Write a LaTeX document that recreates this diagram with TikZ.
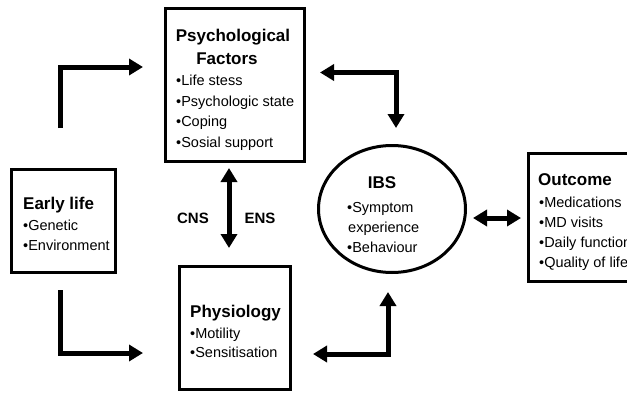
\documentclass[tikz,border=0pt]{standalone}
\usepackage{fontspec}
\setmainfont{Liberation Sans}
\usetikzlibrary{arrows.meta,shapes.geometric}
\tikzset{
  box/.style={draw, line width=3pt, inner sep=0pt},
  ttl/.style={anchor=base west, inner sep=0pt, font=\fontsize{17}{20}\selectfont\bfseries},
  ttlc/.style={anchor=base, inner sep=0pt, font=\fontsize{17}{20}\selectfont\bfseries},
  lbl/.style={anchor=base west, inner sep=0pt, font=\fontsize{14.5}{17}\selectfont},
  nlbl/.style={anchor=base, inner sep=0pt, font=\fontsize{15}{17}\selectfont\bfseries},
  arr/.style={line width=5pt, line join=miter, -{Triangle[length=14pt,width=16pt]}},
  darr/.style={line width=5pt, line join=miter, {Triangle[length=14pt,width=16pt]}-{Triangle[length=14pt,width=16pt]}},
}
\begin{document}
\begin{tikzpicture}[x=1pt,y=-1pt]
\useasboundingbox (0,0) rectangle (627,394);
\clip (0,0) rectangle (627,394);
% boxes
\node[box, minimum width=139pt, minimum height=153pt] (psy) at (235,85) {};
\node[box, minimum width=104pt, minimum height=103pt] (early) at (63.5,221) {};
\node[box, minimum width=111pt, minimum height=123pt] (phys) at (235,328) {};
\node[box, ellipse, minimum width=147pt, minimum height=127pt] (ibs) at (392,209) {};
\node[box, minimum width=110pt, minimum height=128pt] (out) at (583.5,217.5) {};
% texts: psychological
\node[ttlc] (psyt1) at (233,41) {Psychological};
\node[ttlc] (psyt2) at (227,64) {Factors};
\node[lbl] (psy1) at (176,85) {•Life stess};
\node[lbl] (psy2) at (176,106) {•Psychologic state};
\node[lbl] (psy3) at (176,126) {•Coping};
\node[lbl] (psy4) at (176,147) {•Sosial support};
% early life
\node[ttl] (earlyt) at (23,209) {Early life};
\node[lbl] (early1) at (23,230) {•Genetic};
\node[lbl] (early2) at (23,250) {•Environment};
% physiology
\node[ttl] (physt) at (190,317) {Physiology};
\node[lbl] (phys1) at (190,338) {•Motility};
\node[lbl] (phys2) at (190,357) {•Sensitisation};
% IBS
\node[ttlc] (ibst) at (382,188) {IBS};
\node[lbl] (ibs1) at (347,212) {•Symptom};
\node[lbl] (ibs2) at (348,232) {experience};
\node[lbl] (ibs3) at (347,252) {•Behaviour};
% outcome
\node[ttl] (outt) at (538,185) {Outcome};
\node[lbl] (out1) at (539,207) {•Medications};
\node[lbl] (out2) at (539,227) {•MD visits};
\node[lbl] (out3) at (539,247) {•Daily functioning};
\node[lbl] (out4) at (539,267) {•Quality of life};
% CNS / ENS
\node[nlbl] (cns) at (193,223) {CNS};
\node[nlbl] (ens) at (260,223) {ENS};
% arrow end points
\coordinate (a1s) at (60,128);
\coordinate (a1e) at (143,67);
\coordinate (a2s) at (60,290);
\coordinate (a2e) at (143,353);
\coordinate (a3s) at (320,72.5);
\coordinate (a3e) at (396,128);
\coordinate (a4s) at (313,354);
\coordinate (a4e) at (388,292);
\coordinate (a5s) at (229,168);
\coordinate (a5e) at (229,248);
\coordinate (a6s) at (473,218);
\coordinate (a6e) at (521,218);
% arrows
\draw[arr] (a1s) |- (a1e);
\draw[arr] (a2s) |- (a2e);
\draw[darr] (a3s) -| (a3e);
\draw[darr] (a4s) -| (a4e);
\draw[darr] (a5s) -- (a5e);
\draw[darr] (a6s) -- (a6e);
\end{tikzpicture}
\end{document}
